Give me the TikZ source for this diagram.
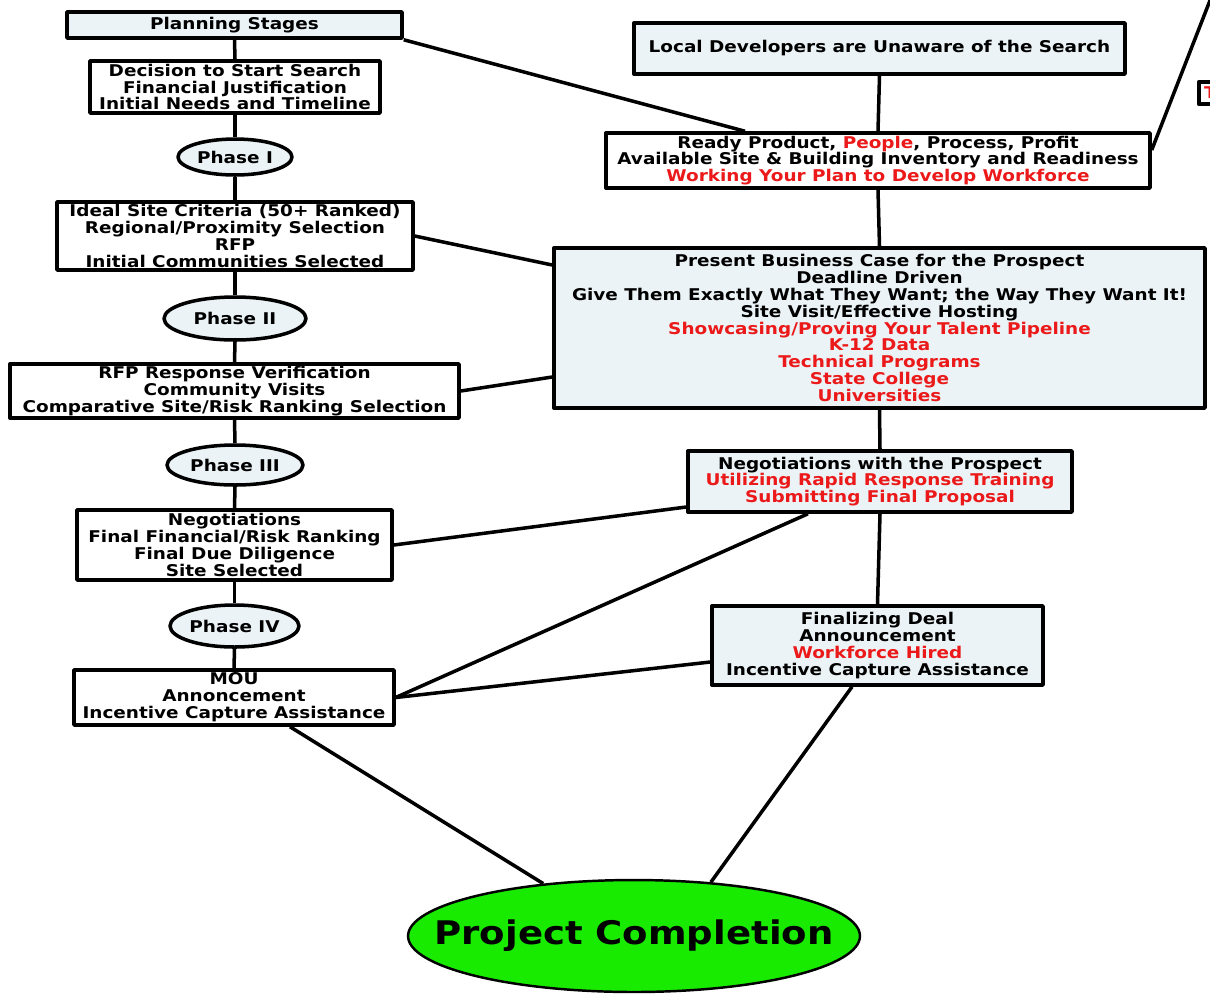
\documentclass[tikz,border=0pt]{standalone}
\usepackage{fontspec}
\setmainfont{DejaVu Sans}[FakeStretch=1.14]
\usetikzlibrary{shapes.geometric}
\definecolor{paleblue}{RGB}{235,243,246}
\definecolor{alertred}{RGB}{235,25,25}
\definecolor{donegreen}{RGB}{25,235,0}

\begin{document}
\begin{tikzpicture}[x=0.02cm,y=-0.02cm,line join=round,
  every node/.style={font=\bfseries\fontsize{9.2}{9.6}\selectfont},
  stage/.style={draw,line width=2pt,fill=white,align=center,inner sep=0pt},
  pale/.style={stage,fill=paleblue},
  phase/.style={ellipse,draw,line width=2pt,fill=paleblue,inner sep=0pt},
  link/.style={line width=2pt}]
\useasboundingbox (0,0) rectangle (1210,995);
\clip (0,0) rectangle (1210,995);

\node[pale,minimum width=6.7cm,minimum height=0.52cm] (planning) at (234.5,25) {Planning Stages};
\node[stage,minimum width=5.8cm,minimum height=1.04cm] (decision) at (235,87) {Decision to Start Search\\Financial Justification\\Initial Needs and Timeline};
\node[phase,minimum width=2.28cm,minimum height=0.72cm] (phase1) at (235,157) {Phase I};
\node[stage,minimum width=7.12cm,minimum height=1.36cm] (ideal) at (235,236) {Ideal Site Criteria (50+ Ranked)\\Regional/Proximity Selection\\RFP\\Initial Communities Selected};
\node[phase,minimum width=2.84cm,minimum height=0.86cm] (phase2) at (235,318.5) {Phase II};
\node[stage,minimum width=8.98cm,minimum height=1.08cm] (rfp) at (234.5,391) {RFP Response Verification\\Community Visits\\Comparative Site/Risk Ranking Selection};
\node[phase,minimum width=2.72cm,minimum height=0.8cm] (phase3) at (235,465) {Phase III};
\node[stage,minimum width=6.3cm,minimum height=1.4cm] (nego) at (234.5,545) {Negotiations\\Final Financial/Risk Ranking\\Final Due Diligence\\Site Selected};
\node[phase,minimum width=2.58cm,minimum height=0.84cm] (phase4) at (234.5,626) {Phase IV};
\node[stage,minimum width=6.4cm,minimum height=1.1cm] (mou) at (234,697.5) {MOU\\Annoncement\\Incentive Capture Assistance};

\node[pale,minimum width=9.82cm,minimum height=1.02cm] (local) at (879.5,48.5) {Local Developers are Unaware of the Search};
\node[stage,minimum width=10.88cm,minimum height=1.1cm] (ready) at (878,160.5) {Ready Product, \textcolor{alertred}{People}, Process, Profit\\Available Site \& Building Inventory and Readiness\\\textcolor{alertred}{Working Your Plan to Develop Workforce}};
\node[pale,minimum width=13.02cm,minimum height=3.2cm] (present) at (879.5,328) {Present Business Case for the Prospect\\Deadline Driven\\Give Them Exactly What They Want; the Way They Want It!\\Site Visit/Effective Hosting\\\color{alertred}Showcasing/Proving Your Talent Pipeline\\\color{alertred}K-12 Data\\\color{alertred}Technical Programs\\\color{alertred}State College\\\color{alertred}Universities};
\node[pale,minimum width=7.68cm,minimum height=1.22cm] (prospect) at (880,481.5) {Negotiations with the Prospect\\\color{alertred}Utilizing Rapid Response Training\\\color{alertred}Submitting Final Proposal};
\node[pale,minimum width=6.62cm,minimum height=1.58cm] (final) at (877.5,645.5) {Finalizing Deal\\Announcement\\\textcolor{alertred}{Workforce Hired}\\Incentive Capture Assistance};
\node[stage,anchor=west,text width=0.8cm,align=left,inner sep=3pt,minimum height=0.4cm,text=alertred] (cut) at (1197,93) {T};
\coordinate (offpage) at (1216,-15);

\node[ellipse,draw,line width=1.4pt,fill=donegreen,minimum width=9.04cm,minimum height=2.24cm,inner sep=0pt] (done) at (634,936) {};
\node[font=\bfseries\fontsize{18.5}{20}\selectfont] (donetext) at (done) {Project Completion};

\draw[link] (planning.south) -- (decision.north);
\draw[link] (decision.south) -- (phase1.north);
\draw[link] (phase1.south) -- (ideal.north);
\draw[link] (ideal.south) -- (phase2.north);
\draw[link] (phase2.south) -- (rfp.north);
\draw[link] (rfp.south) -- (phase3.north);
\draw[link] (phase3.south) -- (nego.north);
\draw[link] (nego.south) -- (phase4.north);
\draw[link] (phase4.south) -- (mou.north);

\draw[link] (planning.south east) -- ([xshift=-2.66cm]ready.north);
\draw[link] (local.south) -- (ready.north);
\draw[link] ([yshift=0.21cm]ready.east) -- (offpage);
\draw[link] (ready.south) -- (present.north);
\draw[link] (ideal.east) -- ([yshift=1.26cm]present.west);
\draw[link] (rfp.east) -- ([yshift=-0.98cm]present.west);
\draw[link] (present.south) -- (prospect.north);
\draw[link] ([yshift=-0.51cm]prospect.west) -- (nego.east);
\draw[link] ([xshift=-1.44cm]prospect.south) -- (mou.east);
\draw[link] (prospect.south) -- (final.north);
\draw[link] ([yshift=-0.33cm]final.west) -- (mou.east);
\draw[link] ([xshift=1.12cm]mou.south) -- (done.150);
\draw[link] ([xshift=-0.51cm]final.south) -- (done.35);
\end{tikzpicture}
\end{document}
